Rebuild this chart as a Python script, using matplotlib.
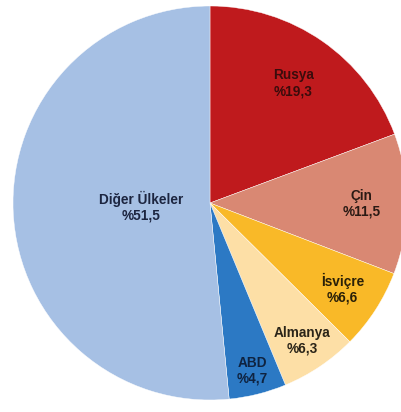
import numpy as np
import matplotlib
matplotlib.use("Agg")
import matplotlib.pyplot as plt

countries = ["Rusya", "Çin", "İsviçre", "Almanya", "ABD", "Diğer Ülkeler"]
shares = [19.3, 11.5, 6.6, 6.3, 4.7, 51.5]
share_labels = ["%19,3", "%11,5", "%6,6", "%6,3", "%4,7", "%51,5"]
colors = ["#BF1A1D", "#D98873", "#F9B928", "#FDDFA6", "#2C79C4", "#A6C0E4"]
label_colors = ["#3a0c0c", "#2a1a14", "#2a2008", "#2a2418", "#0f2340", "#1c2540"]
label_dist = [0.74, 0.77, 0.80, 0.84, 0.88, 0.35]

plt.rcParams["font.family"] = ["Liberation Sans", "DejaVu Sans"]

fig = plt.figure(figsize=(4.01, 4.12), dpi=100)
# pie centre around (210, 203) px, radius ~197 px
cx, cy, r = 210, 203, 197
ax = fig.add_axes([(cx - r) / 401, (412 - cy - r) / 412, 2 * r / 401, 2 * r / 412])

wedges, _ = ax.pie(shares, colors=colors, startangle=90, counterclock=False,
                   wedgeprops=dict(edgecolor="white", linewidth=0.3))
for w in wedges:
    w.set_clip_on(False)

for w, name, lab, d, tc in zip(wedges, countries, share_labels, label_dist, label_colors):
    ang = np.deg2rad((w.theta1 + w.theta2) / 2)
    ax.text(d * np.cos(ang), d * np.sin(ang), name + "\n" + lab,
            ha="center", va="center", fontsize=9.8, fontweight="bold",
            color=tc, linespacing=1.15)

ax.set_xlim(-1, 1)
ax.set_ylim(-1, 1)
ax.set_aspect("auto")
ax.axis("off")

fig.savefig("out.png", dpi=100)
